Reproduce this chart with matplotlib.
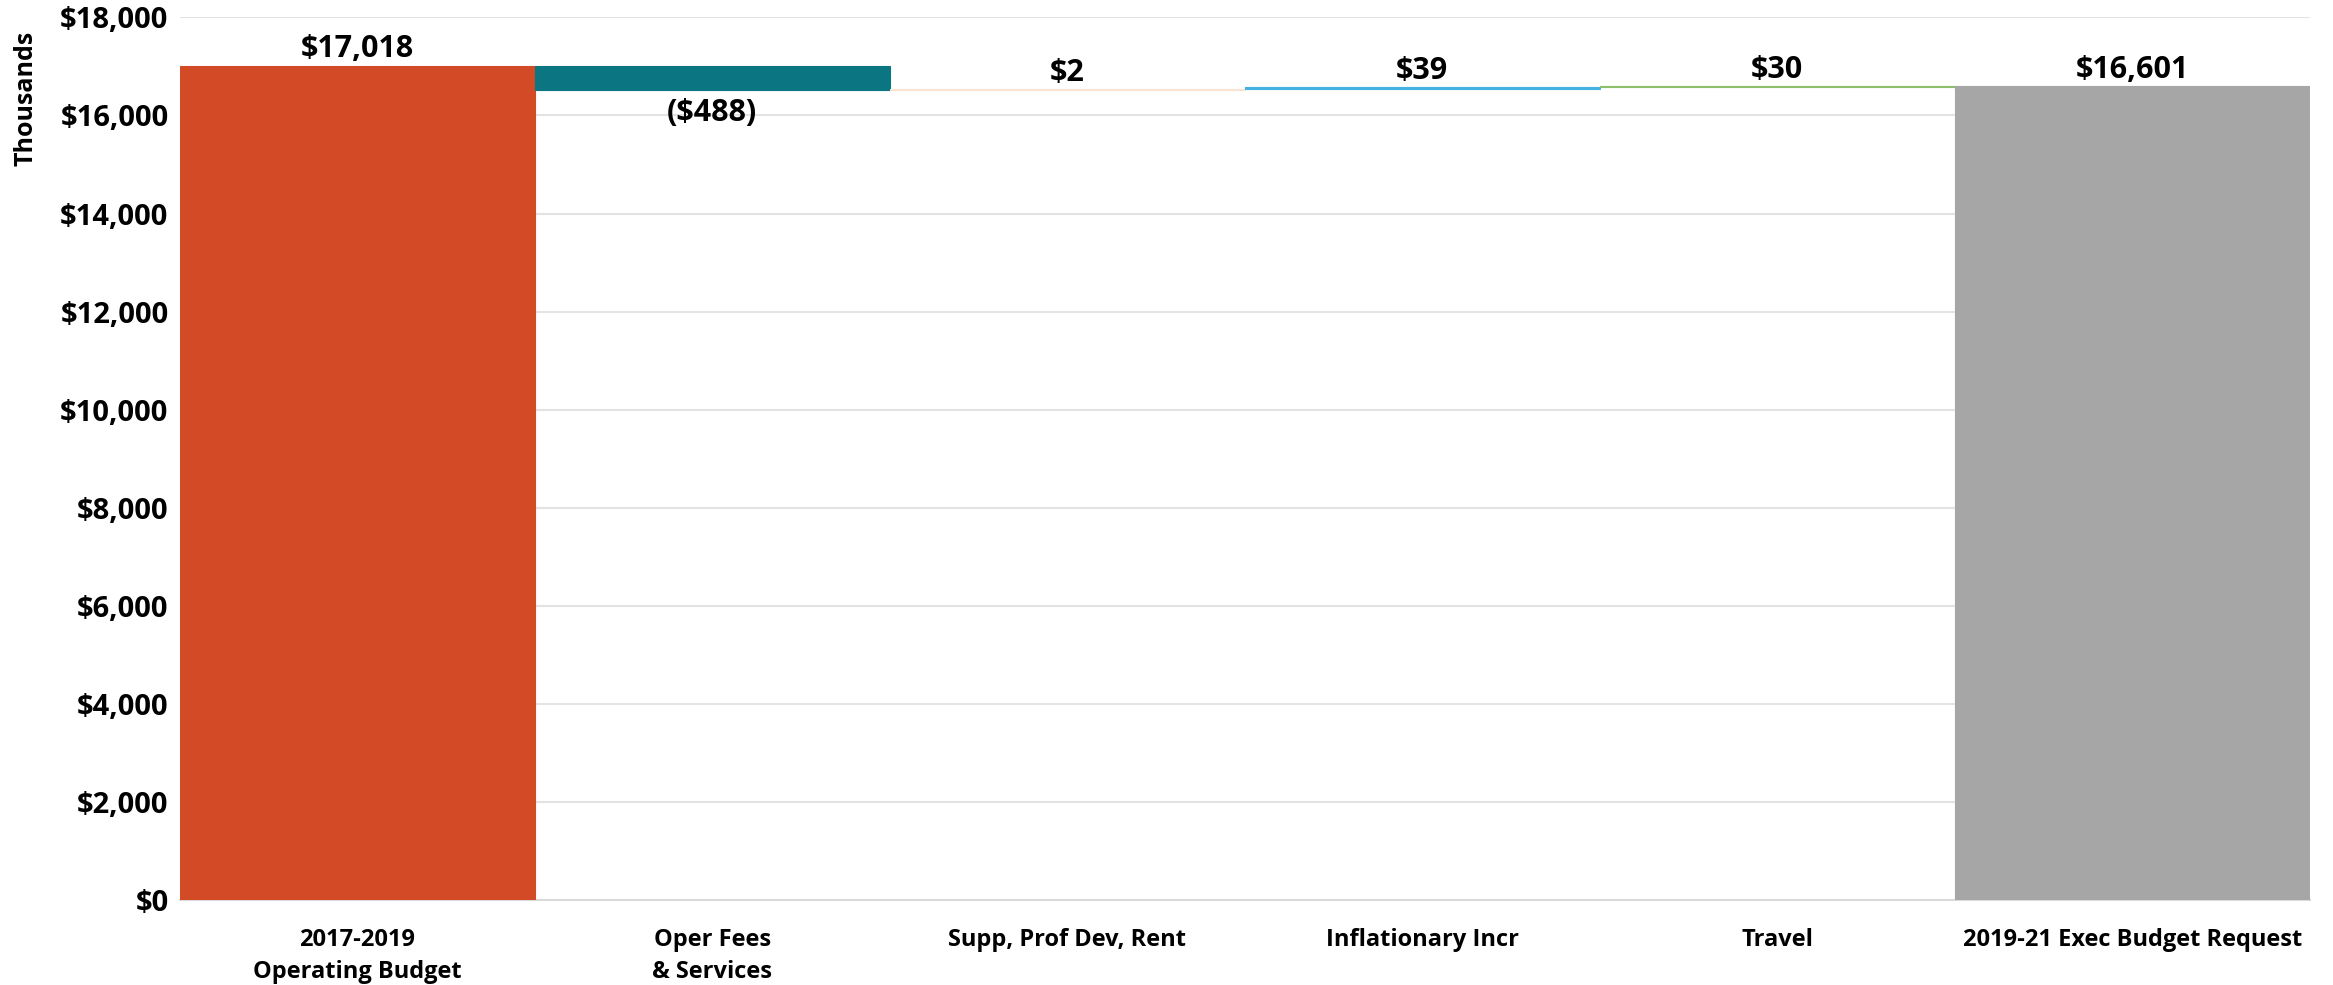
import numpy as np
import matplotlib.pyplot as plt

plt.rcParams['font.family'] = ['Open Sans', 'DejaVu Sans']
plt.rcParams['font.weight'] = 'bold'

categories = ['2017-2019\nOperating Budget', 'Oper Fees\n& Services', 'Supp, Prof Dev, Rent',
              'Inflationary Incr', 'Travel', '2019-21 Exec Budget Request']
changes = [17018, -488, 2, 39, 30, 16601]
is_total = [True, False, False, False, False, True]
labels = ['$17,018', '($488)', '$2', '$39', '$30', '$16,601']
colors = ['#D34A26', '#0B7682', '#FBE3D3', '#45B1E1', '#8CBF6A', '#A6A6A6']

# waterfall bottoms / heights
bottoms = []
heights = []
running = 0
for v, tot in zip(changes, is_total):
    if tot:
        bottoms.append(0)
        heights.append(v)
        running = v
    else:
        if v >= 0:
            bottoms.append(running)
        else:
            bottoms.append(running + v)
        heights.append(abs(v))
        running += v

fig = plt.figure(figsize=(23.33, 9.85), dpi=100)
ax = fig.add_axes([0.077, 0.0863, 0.913, 0.896])

x = np.arange(len(categories))
bars = ax.bar(x, heights, bottom=bottoms, width=1.0, color=colors, edgecolor=colors, linewidth=0.8, zorder=3)
for b in bars:
    b.set_joinstyle('miter')

for i, (v, tot) in enumerate(zip(changes, is_total)):
    if v < 0:
        ax.annotate(labels[i], (x[i], bottoms[i]), xytext=(0, -6), textcoords='offset points',
                    ha='center', va='top', fontsize=22, fontweight='bold')
    else:
        ax.annotate(labels[i], (x[i], bottoms[i] + heights[i]), xytext=(0, 1), textcoords='offset points',
                    ha='center', va='bottom', fontsize=22, fontweight='bold')

ax.set_xlim(-0.5, len(categories) - 0.5)
ax.set_ylim(0, 18000)
ax.set_yticks(np.arange(0, 18001, 2000))
ax.set_yticklabels([f'${v:,.0f}' for v in np.arange(0, 18001, 2000)], fontsize=21, fontweight='bold')
ax.set_xticks(x)
ax.set_xticklabels(categories, fontsize=17, fontweight='bold', linespacing=1.45)
ax.tick_params(axis='both', length=0)
ax.tick_params(axis='x', pad=20)
ax.tick_params(axis='y', pad=8)

ax.grid(axis='y', color='#E3E3E3', linewidth=1.5, zorder=0)
for s in ['left', 'right', 'top']:
    ax.spines[s].set_visible(False)
ax.spines['bottom'].set_color('#DADADA')
ax.spines['bottom'].set_linewidth(1.5)

fig.text(0.011, 0.90, 'Thousands', rotation=90, ha='center', va='center', fontsize=18, fontweight='bold')

fig.savefig('out.png', dpi=100)
